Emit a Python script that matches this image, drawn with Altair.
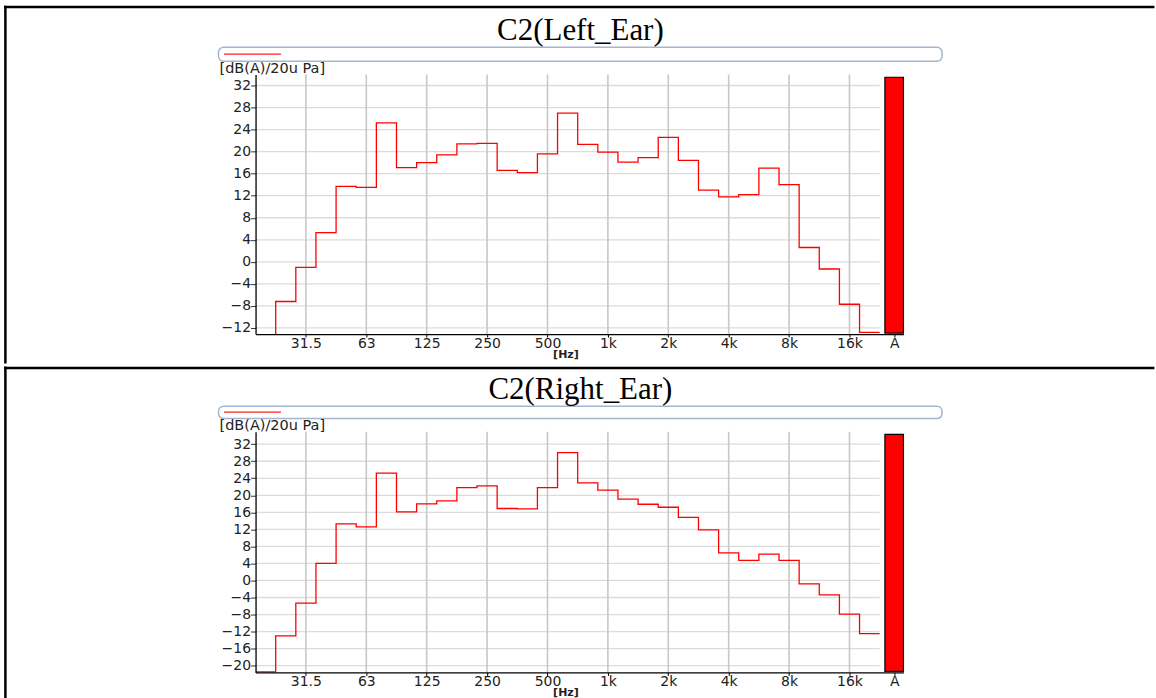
import json
import altair as alt
import pandas as pd

# ---------------- data ----------------
bands = ["20", "25", "31.5", "40", "50", "63", "80", "100", "125", "160", "200", "250",
         "315", "400", "500", "630", "800", "1k", "1.25k", "1.6k", "2k", "2.5k", "3.15k",
         "4k", "5k", "6.3k", "8k", "10k", "12.5k", "16k", "20k"]
left_ear = [-16.0, -7.2, -1.0, 5.3, 13.7, 13.5, 25.2, 17.1, 18.0, 19.4, 21.4, 21.5,
            16.6, 16.2, 19.6, 27.0, 21.3, 19.9, 18.1, 18.9, 22.6, 18.4, 13.0,
            11.8, 12.2, 17.0, 14.0, 2.6, -1.3, -7.7, -12.8]
right_ear = [-21.5, -13.0, -5.3, 4.0, 13.3, 12.6, 25.2, 16.1, 18.0, 18.7, 21.8, 22.2,
             16.9, 16.8, 21.8, 30.0, 22.9, 21.2, 19.1, 17.9, 17.2, 14.8, 11.9,
             6.5, 4.7, 6.2, 4.7, -0.8, -3.4, -7.9, -12.5]
left_total = 33.5
right_total = 34.3
octave_labels = ["31.5", "63", "125", "250", "500", "1k", "2k", "4k", "8k", "16k"]
total_label = "A"
left_yticks = list(range(-12, 33, 4))
right_yticks = list(range(-20, 33, 4))

# ---------------- layout constants ----------------
W = 649
XDOM = [-0.5, 31.68]
A_X0, A_X1, A_POS = 30.76, 31.68, 31.22
LAST_EDGE = len(bands) - 0.5
FONT = "DejaVu Sans"

oct_idx = [bands.index(l) for l in octave_labels]
tick_vals = oct_idx + [A_POS]
tick_labs = octave_labels + [total_label]
label_expr = f"{json.dumps(tick_labs)}[indexof({json.dumps(tick_vals)}, datum.value)]"


def one():
    return alt.Data(values=[{"k": 0}])


def panel(title, values, total, yticks, ydom, H, top, bottom, title_y, leg_y0, leg_y1, leg_line_y,
          first):
    xs = alt.Scale(domain=XDOM, nice=False, zero=False)
    ys = alt.Scale(domain=ydom, nice=False, zero=False)

    xaxis = alt.Axis(values=tick_vals, labelExpr=label_expr, grid=False, zindex=1,
                     domainColor="black", domainWidth=1.3, tickColor="black", tickSize=3,
                     labelFont=FONT, labelFontSize=14, labelColor="#222222", labelPadding=-1,
                     labelFlush=False, labelOverlap=False,
                     title="[Hz]", titleFont=FONT, titleFontSize=11, titleFontWeight="bold",
                     titleColor="#222222", titleX=310.4, titleY=20.5, titleAlign="center",
                     titleBaseline="middle")
    yaxis = alt.Axis(values=yticks, grid=False, zindex=1, domainColor="black", domainWidth=1.3,
                     tickColor="#333333", tickSize=5, labelFont=FONT, labelFontSize=14,
                     labelColor="#222222", labelPadding=0, labelFlush=False,
                     labelOverlap=False,
                     title="[dB(A)/20u Pa]", titleFont=FONT, titleFontSize=14.5,
                     titleFontWeight="normal", titleColor="#222222", titleAngle=0,
                     titleX=-36.6, titleY=-6, titleAlign="left", titleBaseline="middle")

    rows = []
    for i, v in enumerate(values):
        rows.append({"x": i - 0.5, "y": v, "o": 2 * i})
        rows.append({"x": i + 0.5, "y": v, "o": 2 * i + 1})
    steps = pd.DataFrame(rows)

    bg = alt.Chart(one()).mark_rect(fill="white").encode(
        x=alt.value(-255.6), x2=alt.value(900.4), y=alt.value(-top), y2=alt.value(bottom))

    hgrid = alt.Chart(pd.DataFrame({"v": yticks})).mark_rule(
        color="#dcdcdc", strokeWidth=1.3).encode(
        y=alt.Y("v:Q", scale=ys, axis=yaxis),
        x=alt.XDatum(-0.5, scale=xs, axis=xaxis),
        x2=alt.X2Datum(LAST_EDGE))

    vgrid = alt.Chart(pd.DataFrame({"t": oct_idx})).mark_rule(
        color="#c8c8c8", strokeWidth=1.6).encode(
        x=alt.X("t:Q", scale=xs, axis=xaxis))

    borders = []
    if first:
        borders.append(alt.Chart(one()).mark_rule(color="black", strokeWidth=2.5).encode(
            x=alt.value(-251.85), x2=alt.value(900.4), y=alt.value(-67.5)))
        borders.append(alt.Chart(one()).mark_rule(color="black", strokeWidth=2.5).encode(
            x=alt.value(-250.6), y=alt.value(-68.75), y2=alt.value(bottom)))
    else:
        borders.append(alt.Chart(one()).mark_rule(color="black", strokeWidth=2.5).encode(
            x=alt.value(-251.85), x2=alt.value(900.4), y=alt.value(-64)))
        borders.append(alt.Chart(one()).mark_rule(color="black", strokeWidth=2.5).encode(
            x=alt.value(-250.6), y=alt.value(-top), y2=alt.value(bottom)))

    legend_box = alt.Chart(one()).mark_rect(
        fill="white", stroke="#a3b6cf", strokeWidth=1.5, cornerRadius=5).encode(
        x=alt.value(-37.1), x2=alt.value(687.7), y=alt.value(leg_y0), y2=alt.value(leg_y1))
    legend_line = alt.Chart(one()).mark_rule(color="#ff2020", strokeWidth=1.2).encode(
        x=alt.value(-31.6), x2=alt.value(25.4), y=alt.value(leg_line_y))

    ttl = alt.Chart(one()).mark_text(
        text=title, font="Liberation Serif", fontSize=31, align="center",
        baseline="alphabetic", color="black").encode(
        x=alt.value(325.4), y=alt.value(title_y))

    line = alt.Chart(steps).mark_line(color="#ff0000", strokeWidth=1.3, clip=True).encode(
        x=alt.X("x:Q", scale=xs, axis=xaxis),
        y=alt.Y("y:Q", scale=ys, axis=yaxis),
        order="o:Q")

    bar = alt.Chart(pd.DataFrame({"v": [total]})).mark_rect(
        fill="#ff0000", stroke="black", strokeWidth=1.2).encode(
        x=alt.XDatum(A_X0, scale=xs, axis=xaxis),
        x2=alt.X2Datum(A_X1),
        y=alt.Y("v:Q", scale=ys, axis=yaxis),
        y2=alt.value(H - 1))

    return alt.layer(bg, hgrid, vgrid, *borders, legend_box, legend_line, ttl, line, bar
                     ).properties(width=W, height=H)


top_panel = panel("C2(Left_Ear)", left_ear, left_total, left_yticks, [-13.1, 34.0],
                  260, 74, 289.5, -34.5, -27.3, -13.3, -20.3, True)
bottom_panel = panel("C2(Right_Ear)", right_ear, right_total, right_yticks, [-21.6, 34.9],
                     241, 65.5, 269, -32.5, -25.7, -13.3, -19.7, False)

chart = alt.vconcat(top_panel, bottom_panel, spacing=0).properties(
    padding=0, background="white"
).configure_view(stroke=None)

chart.save("out.html", embed_options={"renderer": "svg", "actions": False})
